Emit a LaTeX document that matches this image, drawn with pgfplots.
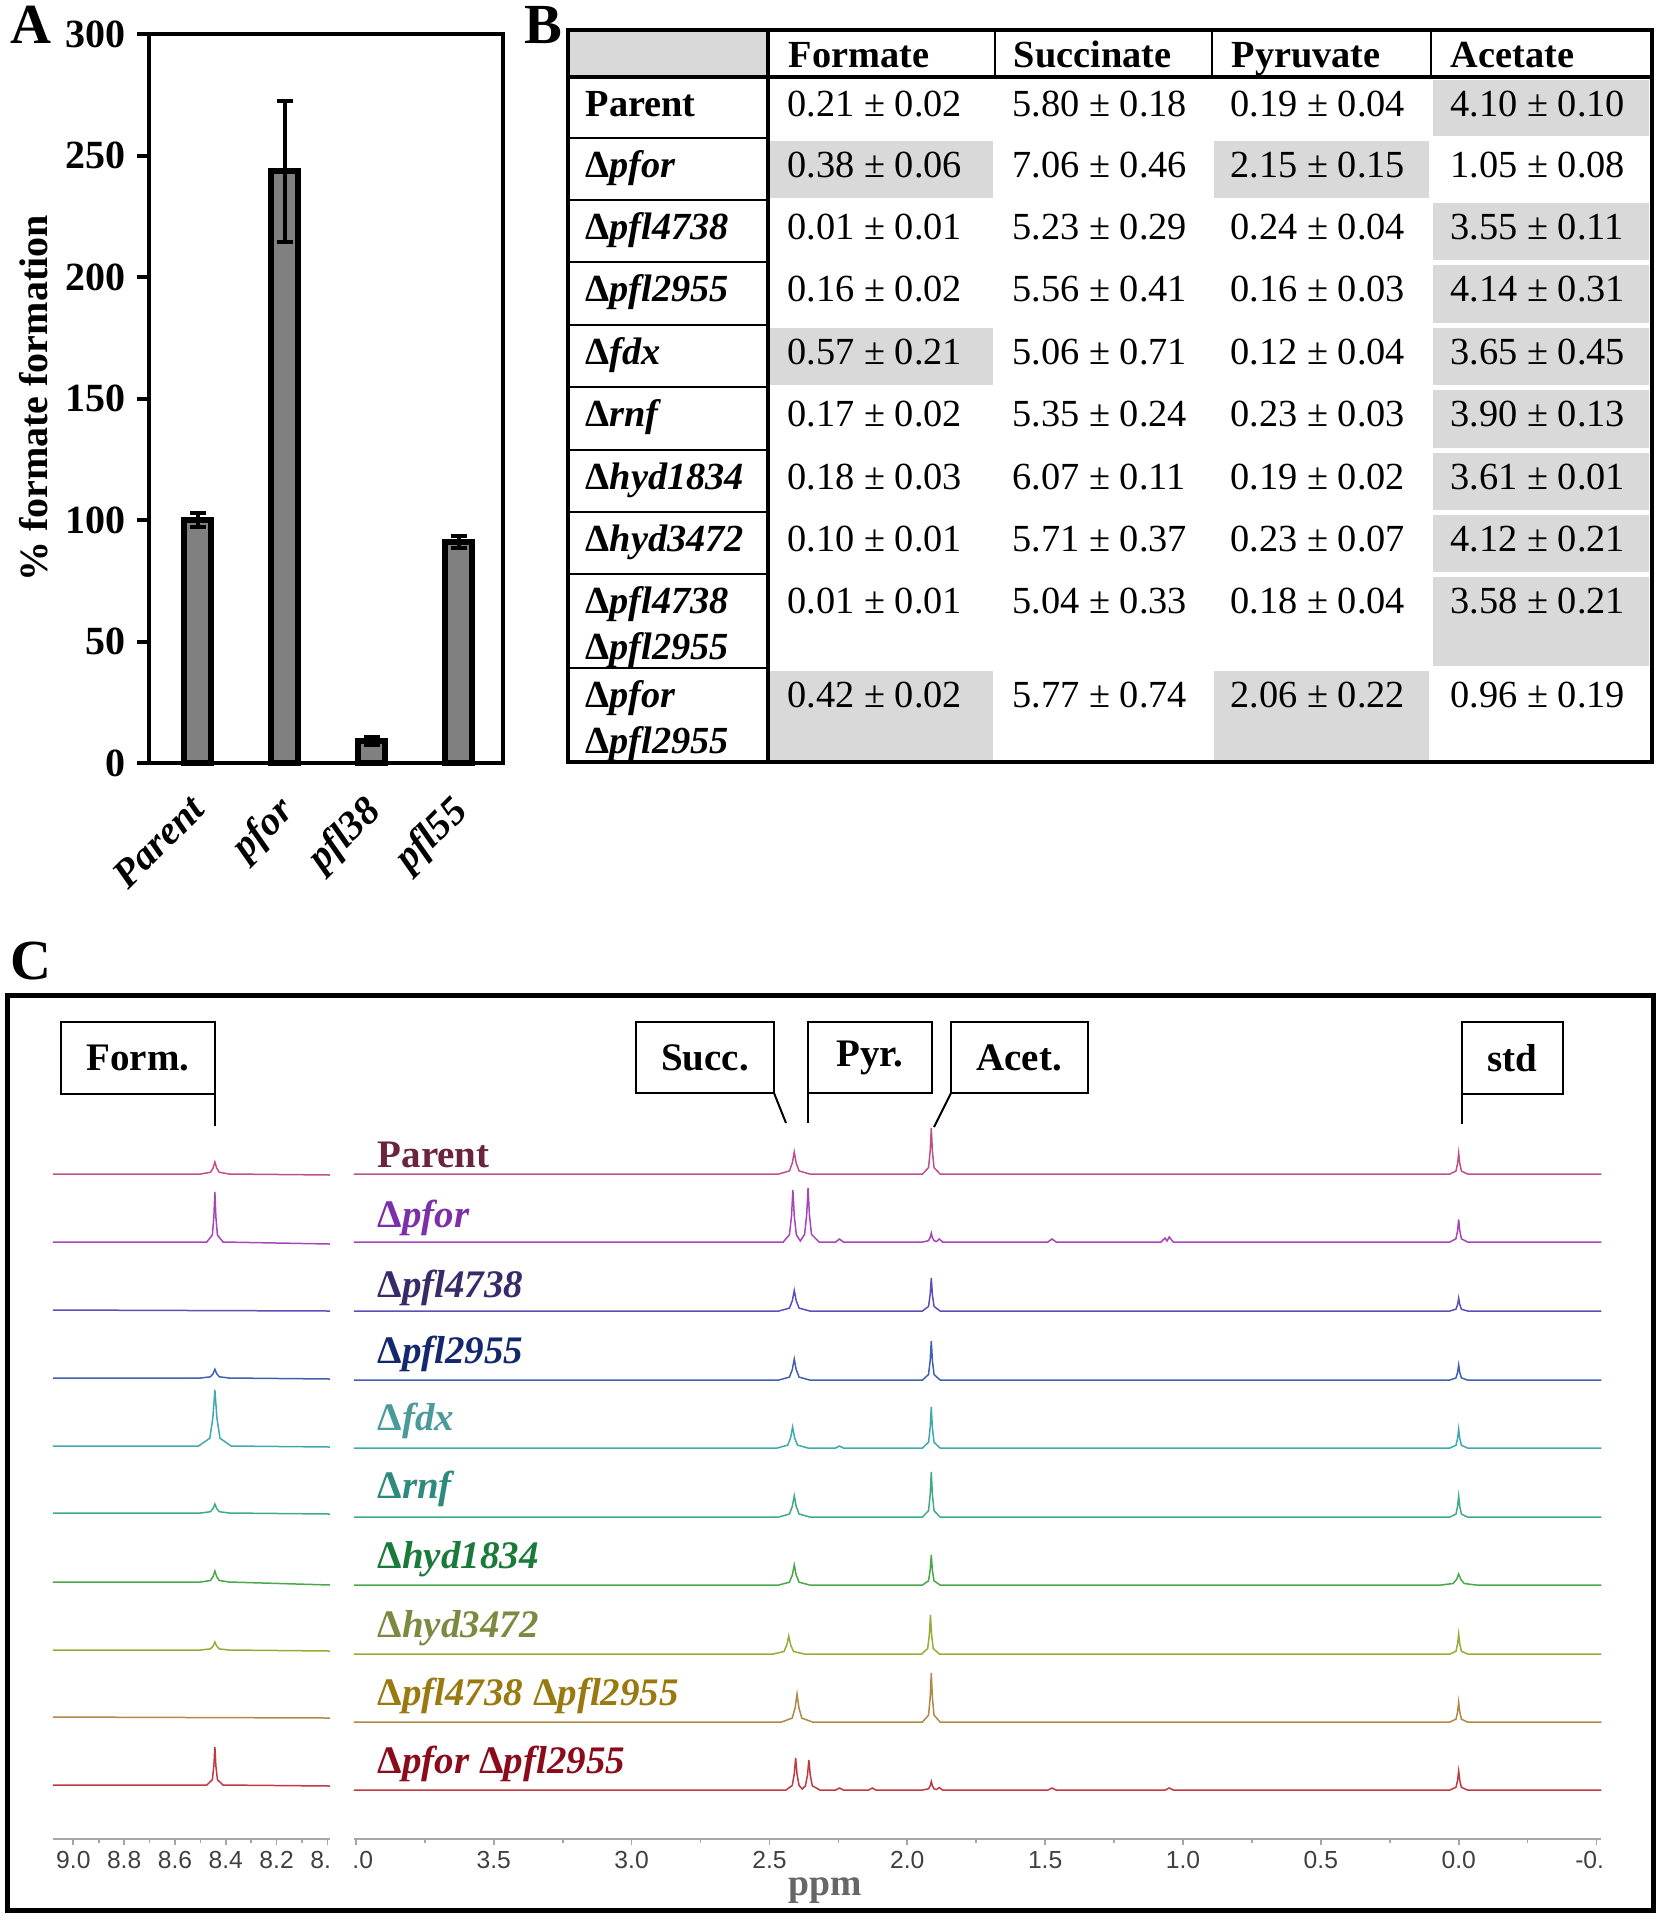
\documentclass[border=0pt]{standalone}
\usepackage{pgfplots}
\pgfplotsset{compat=1.18}
\usepackage{fontspec}
\setmainfont{Liberation Serif}
\newfontfamily\sansf{Liberation Sans}
\definecolor{barGray}{HTML}{808080}
\definecolor{cellgray}{HTML}{D9D9D9}
\definecolor{tA}{HTML}{C0508C}\definecolor{lA}{HTML}{6B2340}
\definecolor{tB}{HTML}{A646B8}\definecolor{lB}{HTML}{7B2FA8}
\definecolor{tC}{HTML}{5A50B8}\definecolor{lC}{HTML}{3A2A6A}
\definecolor{tD}{HTML}{4060B0}\definecolor{lD}{HTML}{14286E}
\definecolor{tE}{HTML}{40A8B0}\definecolor{lE}{HTML}{4A9A9A}
\definecolor{tF}{HTML}{40AA88}\definecolor{lF}{HTML}{2E8A7E}
\definecolor{tG}{HTML}{4AA84A}\definecolor{lG}{HTML}{1A7A3A}
\definecolor{tH}{HTML}{98AA38}\definecolor{lH}{HTML}{7A8A40}
\definecolor{tI}{HTML}{B08848}\definecolor{lI}{HTML}{9A7A10}
\definecolor{tJ}{HTML}{C03840}\definecolor{lJ}{HTML}{8A0C1C}
\newcommand\tfont{\fontsize{11.5}{13}\selectfont}
\newcommand\lfont{\fontsize{11.7}{13}\selectfont\bfseries}
\pgfplotsset{spec/.style={scale only axis, height=221.7pt, ymin=0, ymax=739,
  x dir=reverse, axis x line*=bottom, axis y line=none,
  x axis line style={gray!70, line width=0.6pt},
  tick align=outside, major tick length=1.8pt, minor tick length=1.2pt,
  every tick/.style={gray!70, line width=0.5pt},
  xticklabel style={font=\sansf\fontsize{7.4}{8}\selectfont, text=black!75, yshift=1.6pt},
  /pgf/number format/assume math mode=true}}
\begin{document}
\begin{tikzpicture}
\path (0,0) rectangle (498pt,-576pt);
% ---------------- Panel A
\begin{axis}[at={(44.7pt,-228.9pt)}, anchor=south west, scale only axis, width=106.2pt, height=218.7pt,
  ymin=0, ymax=300, ytick={0,50,...,300}, xmin=-0.563, xmax=3.507,
  xtick={0,1,2,3}, xticklabels={Parent,pfor,pfl38,pfl55},
  axis line style={line width=1.2pt}, ytick pos=left, tick align=outside,
  major tick length=3.6pt, ytick style={line width=1.2pt, black}, xtick style={draw=none},
  /pgf/number format/assume math mode=true,
  yticklabel style={font=\fontsize{12}{12}\selectfont\bfseries},
  xticklabel style={font=\fontsize{12}{12}\selectfont\bfseries\itshape, xshift=-2.9pt, yshift=-3.7pt, rotate=45, anchor=north east, inner sep=1pt},
  ylabel={\% formate formation},
  ylabel style={font=\fontsize{12}{12}\selectfont\bfseries, at={(axis description cs:-0.325,0.5)}, anchor=center},
  clip=false]
\addplot[ybar, bar width=8.1pt, fill=barGray, draw=black, line width=1.8pt,
  error bars/.cd, y dir=both, y explicit,
  error bar style={line width=1.2pt, black},
  error mark options={rotate=90, mark size=2.4pt, line width=1.2pt, black}]
  coordinates {(0,100) +- (0,3) (1,243.5) +- (0,29) (2,9) +- (0,1.5) (3,91) +- (0,2.5)};
\end{axis}
% left (formate) spectra
\begin{axis}[spec, at={(57.45pt,-551.7pt)}, anchor=south, width=83.1pt, xmin=7.99, xmax=9.08,
  xtick={9.0,8.8,8.6,8.4,8.2,8.0}, xticklabels={9.0,8.8,8.6,8.4,8.2,8.\phantom{0}}, minor x tick num=1]
\addplot[tA, line width=0.45pt] coordinates {(9.08,665)(8.499,665)(8.4605,666.7)(8.45,671)(8.443,677)(8.436,671)(8.4255,666.7)(8.387,665)(7.99,664)};
\addplot[tB, line width=0.45pt] coordinates {(9.08,597)(8.475,597)(8.453,604)(8.447,622)(8.443,647)(8.439,622)(8.433,604)(8.411,597)(7.99,595)};
\addplot[tC, line width=0.45pt] coordinates {(9.08,529)(7.99,528)};
\addplot[tD, line width=0.45pt] coordinates {(9.08,461)(8.499,461)(8.4605,462.2)(8.45,465.4)(8.443,469.7)(8.436,465.4)(8.4255,462.2)(8.387,461)(7.99,460)};
\addplot[tE, line width=0.45pt] coordinates {(9.08,393)(8.507,393)(8.463,400.8)(8.451,421)(8.443,449)(8.435,421)(8.423,400.8)(8.379,393)(7.99,392)};
\addplot[tF, line width=0.45pt] coordinates {(9.08,326)(8.499,326)(8.4605,327.3)(8.45,330.5)(8.443,335)(8.436,330.5)(8.4255,327.3)(8.387,326)(7.99,325)};
\addplot[tG, line width=0.45pt] coordinates {(9.08,257)(8.499,257)(8.4605,258.5)(8.45,262.5)(8.443,268)(8.436,262.5)(8.4255,258.5)(8.387,257)(7.99,254)};
\addplot[tH, line width=0.45pt] coordinates {(9.08,189)(8.499,189)(8.4605,190.1)(8.45,193)(8.443,197)(8.436,193)(8.4255,190.1)(8.387,189)(7.99,188)};
\addplot[tI, line width=0.45pt] coordinates {(9.08,122)(7.99,121)};
\addplot[tJ, line width=0.45pt] coordinates {(9.08,54)(8.475,54)(8.453,59.3)(8.447,73)(8.443,92)(8.439,73)(8.433,59.3)(8.411,54)(7.99,53)};
\end{axis}
% right spectra
\begin{axis}[spec, at={(293.325pt,-551.7pt)}, anchor=south, width=374.25pt, xmin=-0.518, xmax=4.007,
  xtick={4,3.5,3,2.5,2,1.5,1,0.5,0,-0.5},
  xticklabels={\phantom{4}.0,3.5,3.0,2.5,2.0,1.5,1.0,0.5,0.0,-0.\phantom{5}}, minor x tick num=1,
  xlabel={ppm}, xlabel style={at={(axis description cs:0.378,-0.07)}, anchor=center,
  font=\fontsize{11.3}{12}\selectfont\bfseries, text=black!60}]
\addplot[tA, line width=0.45pt] coordinates {(4.007,665)(2.466,665)(2.4275,668.1)(2.417,676)(2.41,687)(2.403,676)(2.3925,668.1)(2.354,665)(1.945,665)(1.923,671.4)(1.917,688)(1.913,711)(1.909,688)(1.903,671.4)(1.881,665)(0.032,665)(0.01,667.9)(0.004,675.5)(0,686)(-0.004,675.5)(-0.01,667.9)(-0.032,665)(-0.518,665)};
\addplot[tB, line width=0.45pt] coordinates {(4.007,597)(2.45,597)(2.4275,604.3)(2.42,623)(2.415,649)(2.41,623)(2.4025,604.3)(2.388,598)(2.3725,604.6)(2.365,624)(2.36,651)(2.355,624)(2.3475,604.6)(2.32,597)(2.26,597)(2.246,600)(2.232,597)(1.945,597)(1.923,598.3)(1.917,601.5)(1.913,606)(1.909,601.5)(1.903,598.3)(1.894,597.5)(1.884,600)(1.872,597)(1.49,597)(1.475,600)(1.46,597)(1.08,597)(1.065,601)(1.058,598)(1.05,602)(1.035,597)(0.032,597)(0.01,600.2)(0.004,608.3)(0,619.5)(-0.004,608.3)(-0.01,600.2)(-0.032,597)(-0.518,597)};
\addplot[tC, line width=0.45pt] coordinates {(4.007,528)(2.466,528)(2.4275,530.9)(2.417,538.3)(2.41,548.5)(2.403,538.3)(2.3925,530.9)(2.354,528)(1.945,528)(1.923,532.6)(1.917,544.5)(1.913,561)(1.909,544.5)(1.903,532.6)(1.881,528)(0.032,528)(0.01,529.8)(0.004,534.5)(0,541)(-0.004,534.5)(-0.01,529.8)(-0.032,528)(-0.518,528)};
\addplot[tD, line width=0.45pt] coordinates {(4.007,459)(2.466,459)(2.4275,461.9)(2.417,469.5)(2.41,480)(2.403,469.5)(2.3925,461.9)(2.354,459)(1.945,459)(1.923,464.5)(1.917,478.5)(1.913,498)(1.909,478.5)(1.903,464.5)(1.881,459)(0.032,459)(0.01,461.1)(0.004,466.5)(0,474)(-0.004,466.5)(-0.01,461.1)(-0.032,459)(-0.518,459)};
\addplot[tE, line width=0.45pt] coordinates {(4.007,391)(2.472,391)(2.4335,393.9)(2.423,401.5)(2.416,412)(2.409,401.5)(2.3985,393.9)(2.36,391)(2.26,391)(2.246,393)(2.232,391)(1.945,391)(1.923,396.7)(1.917,411.5)(1.913,432)(1.909,411.5)(1.903,396.7)(1.881,391)(0.032,391)(0.01,393.7)(0.004,400.5)(0,410)(-0.004,400.5)(-0.01,393.7)(-0.032,391)(-0.518,391)};
\addplot[tF, line width=0.45pt] coordinates {(4.007,322)(2.466,322)(2.4275,325)(2.417,332.7)(2.41,343.4)(2.403,332.7)(2.3925,325)(2.354,322)(1.945,322)(1.923,328.3)(1.917,344.5)(1.913,367)(1.909,344.5)(1.903,328.3)(1.881,322)(0.032,322)(0.01,324.9)(0.004,332.5)(0,343)(-0.004,332.5)(-0.01,324.9)(-0.032,322)(-0.518,322)};
\addplot[tG, line width=0.45pt] coordinates {(4.007,254)(2.466,254)(2.4275,256.8)(2.417,264)(2.41,274)(2.403,264)(2.3925,256.8)(2.354,254)(1.945,254)(1.923,258.2)(1.917,269)(1.913,284)(1.909,269)(1.903,258.2)(1.881,254)(0.064,254)(0.02,255.5)(0.008,259.5)(0,265)(-0.008,259.5)(-0.02,255.5)(-0.064,254)(-0.518,254)};
\addplot[tH, line width=0.45pt] coordinates {(4.007,185)(2.486,185)(2.4475,187.5)(2.437,194)(2.43,203)(2.423,194)(2.4125,187.5)(2.374,185)(1.948,185)(1.926,190.5)(1.92,204.5)(1.916,224)(1.912,204.5)(1.906,190.5)(1.884,185)(0.032,185)(0.01,187.8)(0.004,195)(0,205)(-0.004,195)(-0.01,187.8)(-0.032,185)(-0.518,185)};
\addplot[tI, line width=0.45pt] coordinates {(4.007,117)(2.456,117)(2.4175,120.9)(2.407,131)(2.40,145)(2.393,131)(2.3825,120.9)(2.344,117)(1.945,117)(1.923,123.9)(1.917,141.5)(1.913,166)(1.909,141.5)(1.903,123.9)(1.881,117)(0.032,117)(0.01,119.8)(0.004,127)(0,137)(-0.004,127)(-0.01,119.8)(-0.032,117)(-0.518,117)};
\addplot[tJ, line width=0.45pt] coordinates {(4.007,49)(2.44,49)(2.4175,53.5)(2.41,65)(2.405,81)(2.40,65)(2.3925,53.5)(2.381,50)(2.3695,53.2)(2.362,64)(2.357,79)(2.352,64)(2.3445,53.2)(2.317,49)(2.26,49)(2.246,51)(2.232,49)(2.14,49)(2.127,51)(2.114,49)(1.945,49)(1.923,50.2)(1.917,53.3)(1.913,57.5)(1.909,53.3)(1.903,50.2)(1.894,49.5)(1.884,51.5)(1.872,49)(1.49,49)(1.475,51)(1.46,49)(1.065,49)(1.05,51)(1.035,49)(0.032,49)(0.01,51.7)(0.004,58.5)(0,68)(-0.004,58.5)(-0.01,51.7)(-0.032,49)(-0.518,49)};
\end{axis}
\begin{scope}[x=0.3pt,y=-0.3pt]
\node[anchor=base west,font=\fontsize{17}{17}\selectfont\bfseries,inner sep=0] at (10,43) {A};
% ---------------- Panel B (table)
\node[anchor=base west,font=\fontsize{17}{17}\selectfont\bfseries,inner sep=0] at (524,43) {B};
\fill[cellgray] (569,31) rectangle (767,76);
\foreach \ya/\yb in {77/138,200/262,262/325,325/387,387/450,450/512,512/574,574/668}
  {\fill[cellgray] (1433,\ya+3) rectangle (1649,\yb-2);}
\foreach \ya/\yb in {138/200,325/387,668/762}
  {\fill[cellgray] (770,\ya+3) rectangle (993,\yb-2);}
\foreach \ya/\yb in {138/200,668/762}
  {\fill[cellgray] (1214,\ya+3) rectangle (1429,\yb-2);}
\draw[line width=1.4pt] (568,30) rectangle (1652,762);
\draw[line width=1.4pt] (568,77) -- (1652,77);
\draw[line width=1pt] (768,30) -- (768,762);
\foreach \xx in {995,1212,1431} {\draw[line width=0.7pt] (\xx,30) -- (\xx,77);}
\foreach \yy in {138,200,262,325,387,450,512,574,668} {\draw[line width=0.8pt] (568,\yy) -- (768,\yy);}
\begin{scope}[every node/.style={anchor=base west, inner sep=0, font=\tfont}]
\node[font=\tfont\bfseries] at (788,67) {Formate};
\node[font=\tfont\bfseries] at (1013,67) {Succinate};
\node[font=\tfont\bfseries] at (1231,67) {Pyruvate};
\node[font=\tfont\bfseries] at (1450,67) {Acetate};
\node[font=\tfont\bfseries] at (585,116) {Parent};
\node[font=\tfont\bfseries] at (585,177) {Δ\textit{pfor}};
\node[font=\tfont\bfseries] at (585,239) {Δ\textit{pfl4738}};
\node[font=\tfont\bfseries] at (585,301) {Δ\textit{pfl2955}};
\node[font=\tfont\bfseries] at (585,364) {Δ\textit{fdx}};
\node[font=\tfont\bfseries] at (585,426) {Δ\textit{rnf}};
\node[font=\tfont\bfseries] at (585,489) {Δ\textit{hyd1834}};
\node[font=\tfont\bfseries] at (585,551) {Δ\textit{hyd3472}};
\node[font=\tfont\bfseries] at (585,613) {Δ\textit{pfl4738}};
\node[font=\tfont\bfseries] at (585,659) {Δ\textit{pfl2955}};
\node[font=\tfont\bfseries] at (585,707) {Δ\textit{pfor}};
\node[font=\tfont\bfseries] at (585,753) {Δ\textit{pfl2955}};
\node at (787,116) {0.21 ± 0.02}; \node at (1012,116) {5.80 ± 0.18}; \node at (1230,116) {0.19 ± 0.04}; \node at (1450,116) {4.10 ± 0.10};
\node at (787,177) {0.38 ± 0.06}; \node at (1012,177) {7.06 ± 0.46}; \node at (1230,177) {2.15 ± 0.15}; \node at (1450,177) {1.05 ± 0.08};
\node at (787,239) {0.01 ± 0.01}; \node at (1012,239) {5.23 ± 0.29}; \node at (1230,239) {0.24 ± 0.04}; \node at (1450,239) {3.55 ± 0.11};
\node at (787,301) {0.16 ± 0.02}; \node at (1012,301) {5.56 ± 0.41}; \node at (1230,301) {0.16 ± 0.03}; \node at (1450,301) {4.14 ± 0.31};
\node at (787,364) {0.57 ± 0.21}; \node at (1012,364) {5.06 ± 0.71}; \node at (1230,364) {0.12 ± 0.04}; \node at (1450,364) {3.65 ± 0.45};
\node at (787,426) {0.17 ± 0.02}; \node at (1012,426) {5.35 ± 0.24}; \node at (1230,426) {0.23 ± 0.03}; \node at (1450,426) {3.90 ± 0.13};
\node at (787,489) {0.18 ± 0.03}; \node at (1012,489) {6.07 ± 0.11}; \node at (1230,489) {0.19 ± 0.02}; \node at (1450,489) {3.61 ± 0.01};
\node at (787,551) {0.10 ± 0.01}; \node at (1012,551) {5.71 ± 0.37}; \node at (1230,551) {0.23 ± 0.07}; \node at (1450,551) {4.12 ± 0.21};
\node at (787,613) {0.01 ± 0.01}; \node at (1012,613) {5.04 ± 0.33}; \node at (1230,613) {0.18 ± 0.04}; \node at (1450,613) {3.58 ± 0.21};
\node at (787,707) {0.42 ± 0.02}; \node at (1012,707) {5.77 ± 0.74}; \node at (1230,707) {2.06 ± 0.22}; \node at (1450,707) {0.96 ± 0.19};
\end{scope}
% ---------------- Panel C
\node[anchor=base west,font=\fontsize{17}{17}\selectfont\bfseries,inner sep=0] at (10,979) {C};
\draw[line width=1.5pt] (7,995) rectangle (1653,1910);
\begin{scope}[line width=0.6pt, every node/.style={font=\lfont, inner sep=0}]
\draw (61,1022) rectangle (215,1094); \draw (215,1094) -- (215,1126); \node at (138,1058) {Form.};
\draw (636,1022) rectangle (774,1093); \draw (774,1093) -- (786,1123); \node at (705,1058) {Succ.};
\draw (808,1022) rectangle (932,1093); \draw (808,1093) -- (808,1123); \node at (870,1058) {Pyr.};
\draw (951,1022) rectangle (1088,1093); \draw (951,1093) -- (934,1127); \node at (1019,1058) {Acet.};
\draw (1462,1022) rectangle (1563,1094); \draw (1462,1094) -- (1462,1124); \node at (1512,1058) {std};
\end{scope}
\begin{scope}[every node/.style={anchor=base west, inner sep=0, font=\lfont}]
\node[text=lA] at (377,1167) {Parent};
\node[text=lB] at (377,1227) {Δ\textit{pfor}};
\node[text=lC] at (377,1297) {Δ\textit{pfl4738}};
\node[text=lD] at (377,1363) {Δ\textit{pfl2955}};
\node[text=lE] at (377,1430) {Δ\textit{fdx}};
\node[text=lF] at (377,1498) {Δ\textit{rnf}};
\node[text=lG] at (377,1568) {Δ\textit{hyd1834}};
\node[text=lH] at (377,1637) {Δ\textit{hyd3472}};
\node[text=lI] at (377,1705) {Δ\textit{pfl4738} Δ\textit{pfl2955}};
\node[text=lJ] at (377,1773) {Δ\textit{pfor} Δ\textit{pfl2955}};
\end{scope}
\end{scope}
\end{tikzpicture}
\end{document}
